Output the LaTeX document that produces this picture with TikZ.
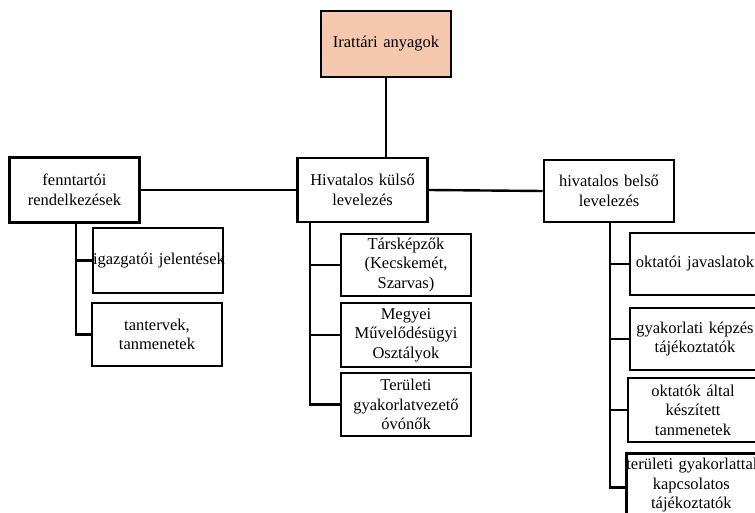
\documentclass[tikz,border=0pt]{standalone}
\usepackage{fontspec}
\setmainfont{Liberation Serif}
\definecolor{peach}{HTML}{F5C7AE}
\begin{document}
\begin{tikzpicture}[x=1pt,y=-1pt,
  box/.style={draw, line width=2.8pt, inner sep=0pt, align=center, text width=130pt,
    font=\fontsize{16.5}{19.5}\selectfont},
  ln/.style={line width=2.4pt}]
\useasboundingbox (0,0) rectangle (755,513);
\clip (0,0) rectangle (755,513);
% top
\node[box, fill=peach, minimum height=66pt] (top) at (386,44) {\mbox{Irattári anyagok}};
% level 2
\node[box, minimum height=65pt] (fenn) at (74.5,190) {fenntartói\\\mbox{rendelkezések}};
\node[box, minimum height=64pt] (hk) at (362.5,190) {\mbox{Hivatalos külső}\\levelezés};
\node[box, minimum height=62pt] (hb) at (609,191) {\mbox{hivatalos belső}\\levelezés};
% left children
\node[box, minimum height=65pt] (l1) at (158,260.5) {\mbox{igazgatói jelentések}};
\node[box, minimum height=63pt] (l2) at (157,334.5) {tantervek,\\tanmenetek};
% middle children
\node[box, minimum height=62pt] (m1) at (406,265) {Társképzők\\(Kecskemét,\\Szarvas)};
\node[box, minimum height=64pt] (m2) at (406,335) {Megyei\\\mbox{Művelődésügyi}\\Osztályok};
\node[box, minimum height=63pt] (m3) at (406,404.5) {Területi\\\mbox{gyakorlatvezető}\\óvónők};
% right children
\node[box, minimum height=62pt] (r1) at (695,264) {\mbox{oktatói javaslatok}};
\node[box, minimum height=62pt] (r2) at (695,339) {\mbox{gyakorlati képzés}\\tájékoztatók};
\node[box, minimum height=64pt] (r3) at (693,410) {\mbox{oktatók által}\\készített\\tanmenetek};
\node[box, minimum height=64pt, anchor=north west] (r4) at (625,452) {\mbox{területi gyakorlattal}\\kapcsolatos\\tájékoztatók};
% connectors
\draw[ln] (top.south) -- (top.south |- hk.north);
\draw[ln] (fenn.east) -- (hk.west);
\draw[ln] (hk.east) -- (hb.west);
\coordinate (lv) at ([xshift=1.5pt]fenn.south);
\draw[ln] (lv) |- (l2.west);
\draw[ln] (lv |- l1.west) -- (l1.west);
\coordinate (mv) at ([xshift=14pt]hk.south west);
\draw[ln] (mv) |- (m3.west);
\draw[ln] (mv |- m1.west) -- (m1.west);
\draw[ln] (mv |- m2.west) -- (m2.west);
\coordinate (rv) at ([xshift=1pt]hb.south);
\draw[ln] (rv) |- ([yshift=-2pt]r4.west);
\draw[ln] (rv |- r1.west) -- (r1.west);
\draw[ln] (rv |- r2.west) -- (r2.west);
\draw[ln] (rv |- r3.west) -- (r3.west);
\end{tikzpicture}
\end{document}
